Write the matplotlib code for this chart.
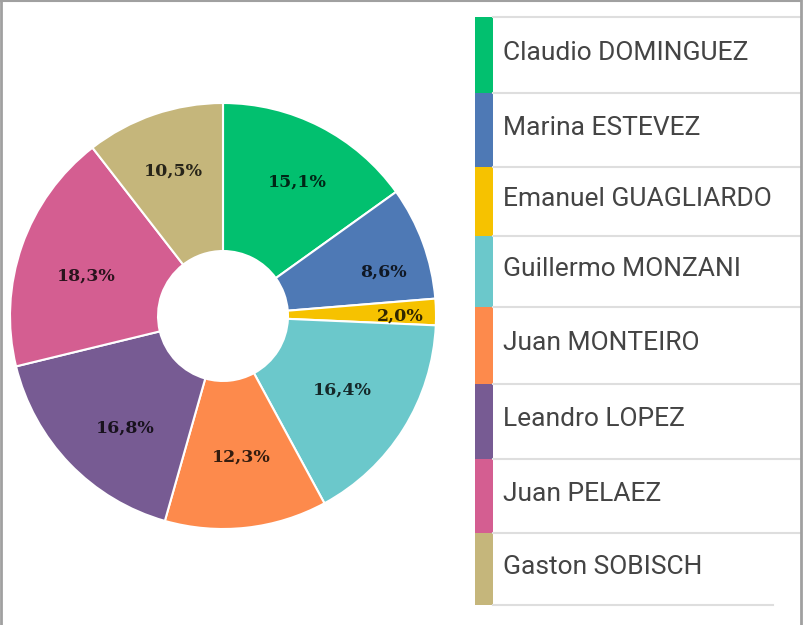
import numpy as np
import matplotlib.pyplot as plt
from matplotlib.colors import to_rgb
from matplotlib.patches import Rectangle

# candidates and share of votes (%)
names = ['Claudio DOMINGUEZ', 'Marina ESTEVEZ', 'Emanuel GUAGLIARDO',
         'Guillermo MONZANI', 'Juan MONTEIRO', 'Leandro LOPEZ',
         'Juan PELAEZ', 'Gaston SOBISCH']
shares = [15.1, 8.6, 2.0, 16.4, 12.3, 16.8, 18.3, 10.5]
labels = ['15,1%', '8,6%', '2,0%', '16,4%', '12,3%', '16,8%', '18,3%', '10,5%']
colors = ['#02c06f', '#4e79b5', '#f6c200', '#6bc8cb',
          '#fd8a4c', '#775b93', '#d45e91', '#c5b67b']

# label placement (fraction of radius, angle tweak in degrees)
label_r = [0.72, 0.78, 0.83, 0.66, 0.67, 0.70, 0.67, 0.72]
label_da = [-2, -5, -1, 0, 1, 5, 3, 0]

W, H = 804, 625
fig = plt.figure(figsize=(W / 100, H / 100), dpi=100)

# pie, center (223, 316) px, radius 213 px
cx, cy, R = 223, 316, 213
ax = fig.add_axes([(cx - R) / W, (H - cy - R) / H, 2 * R / W, 2 * R / H])
wedges, _ = ax.pie(shares, colors=colors, startangle=90, counterclock=False,
                   wedgeprops=dict(width=1 - 0.305, edgecolor='white', linewidth=1.5))
ax.set_xlim(-1, 1)
ax.set_ylim(-1, 1)
ax.set_aspect('equal')
ax.axis('off')

for w, lab, r, da, c in zip(wedges, labels, label_r, label_da, colors):
    ang = np.deg2rad((w.theta1 + w.theta2) / 2 + da)
    dark = tuple(0.2 * v for v in to_rgb(c))
    ax.text(r * np.cos(ang), r * np.sin(ang), lab, ha='center', va='center',
            fontsize=12.5, fontweight='bold', family='DejaVu Serif', color=dark)

# legend drawn as a table on the right
lax = fig.add_axes([0, 0, 1, 1])
lax.set_xlim(0, W)
lax.set_ylim(H, 0)
lax.axis('off')

row_edges = [17, 93, 167, 236, 307, 384, 459, 533, 605]
for i, (name, c) in enumerate(zip(names, colors)):
    y0, y1 = row_edges[i], row_edges[i + 1]
    lax.add_patch(Rectangle((475, y0), 18, y1 - y0, color=c, lw=0))
    lax.text(503, (y0 + y1) / 2 - 2, name, ha='left', va='center',
             fontsize=19, family='Roboto', color='#444444')
    lax.plot([493, 800], [y0, y0], color='#dedede', lw=1.5)
lax.plot([493, 773], [row_edges[-1], row_edges[-1]], color='#dedede', lw=1.5)

# frame of the screenshot
lax.plot([1, 1], [0, H], color='#a0a0a0', lw=2)
lax.plot([0, 801], [0.5, 0.5], color='#a0a0a0', lw=1.5)
lax.plot([801, 801], [0, H], color='#a0a0a0', lw=2)

fig.savefig('out.png', dpi=100)
